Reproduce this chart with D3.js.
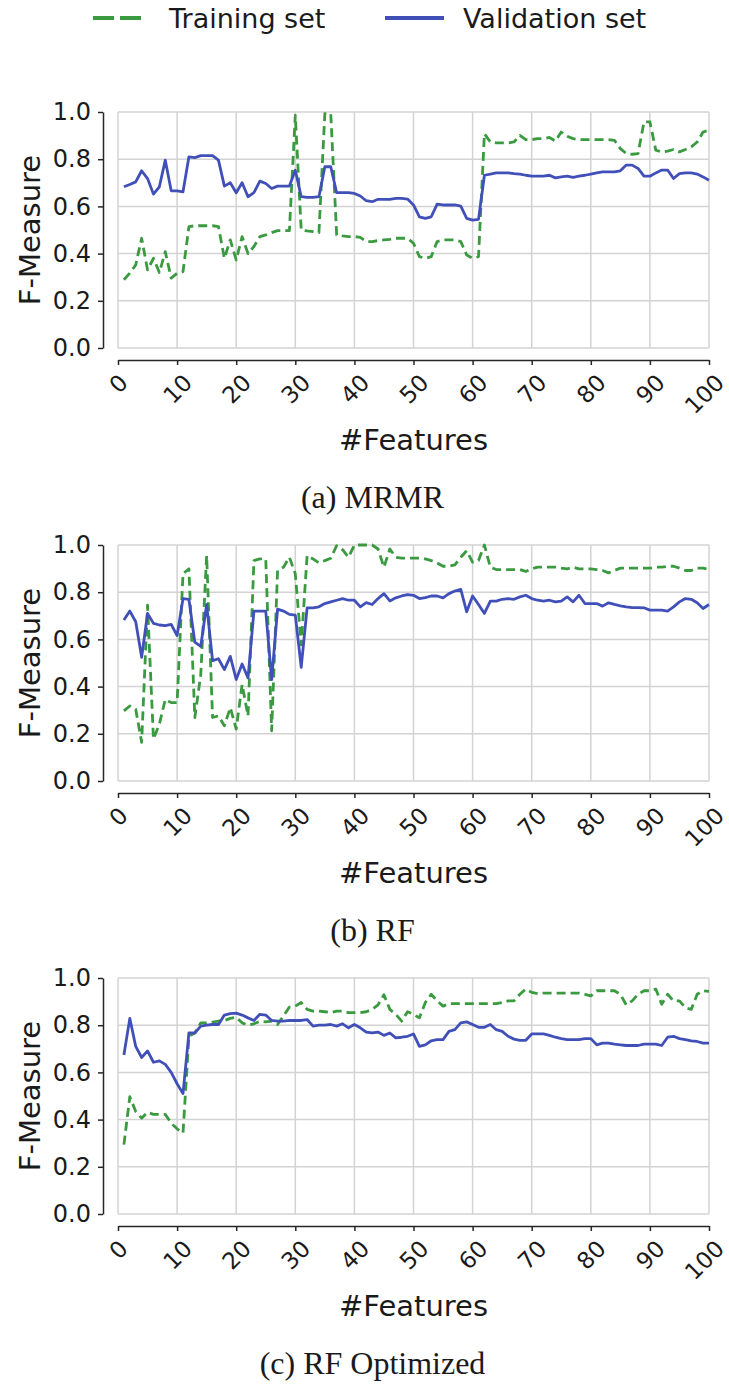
<!DOCTYPE html>
<html>
<head>
<meta charset="utf-8">
<script src="https://cdnjs.cloudflare.com/ajax/libs/d3/7.8.5/d3.min.js"></script>
<style>
  html, body { margin: 0; padding: 0; background: #ffffff; }
  svg { display: block; }
</style>
</head>
<body>
<svg id="chart" width="729" height="1387"></svg>
<script>
// ---------------- DATA ----------------
const features = d3.range(1, 101);
const xTicks = [0, 10, 20, 30, 40, 50, 60, 70, 80, 90, 100];
const yTicks = [0.0, 0.2, 0.4, 0.6, 0.8, 1.0];
const seriesNames = ["Training set", "Validation set"];
const panelCaptions = ["(a) MRMR", "(b) RF", "(c) RF Optimized"];
const xLabel = "#Features";
const yLabel = "F-Measure";

const mrmrTrain = [0.289,0.317,0.352,0.465,0.331,0.38,0.32,0.408,0.296,0.317,
  0.324,0.514,0.518,0.518,0.518,0.518,0.514,0.38,0.458,0.373,
  0.472,0.40,0.43,0.472,0.479,0.489,0.497,0.497,0.497,0.986,
  0.50,0.496,0.493,0.489,0.993,0.993,0.479,0.475,0.472,0.472,
  0.469,0.451,0.451,0.455,0.458,0.46,0.465,0.465,0.465,0.444,
  0.387,0.38,0.387,0.451,0.458,0.458,0.458,0.451,0.394,0.38,
  0.387,0.908,0.873,0.869,0.869,0.869,0.873,0.901,0.883,0.883,
  0.887,0.887,0.892,0.877,0.915,0.897,0.887,0.883,0.883,0.883,
  0.883,0.883,0.883,0.880,0.845,0.824,0.821,0.824,0.958,0.958,
  0.838,0.831,0.834,0.841,0.831,0.841,0.852,0.873,0.915,0.923];
const mrmrVal = [0.683,0.693,0.704,0.751,0.718,0.652,0.683,0.796,0.666,0.666,
  0.662,0.81,0.807,0.815,0.815,0.815,0.796,0.686,0.70,0.658,
  0.70,0.641,0.658,0.707,0.697,0.676,0.686,0.686,0.686,0.753,
  0.641,0.638,0.638,0.641,0.768,0.768,0.658,0.658,0.658,0.655,
  0.644,0.624,0.62,0.63,0.63,0.63,0.634,0.634,0.631,0.606,
  0.556,0.549,0.556,0.61,0.606,0.606,0.606,0.601,0.549,0.542,
  0.545,0.732,0.737,0.742,0.742,0.742,0.739,0.737,0.732,0.728,
  0.728,0.728,0.732,0.721,0.725,0.728,0.723,0.728,0.732,0.737,
  0.742,0.746,0.746,0.746,0.751,0.775,0.775,0.761,0.728,0.728,
  0.742,0.754,0.754,0.718,0.739,0.742,0.742,0.737,0.725,0.711];

const rfTrain = [0.297,0.318,0.304,0.164,0.745,0.178,0.241,0.346,0.332,0.332,
  0.878,0.899,0.269,0.45,0.955,0.269,0.276,0.234,0.311,0.22,
  0.409,0.276,0.934,0.941,0.941,0.213,0.892,0.906,0.948,0.878,
  0.577,0.955,0.941,0.924,0.934,0.944,0.997,0.98,0.948,1.0,
  1.0,1.0,1.0,0.983,0.906,0.983,0.948,0.944,0.944,0.944,
  0.944,0.941,0.934,0.924,0.91,0.91,0.916,0.948,0.976,0.927,
  0.934,1.0,0.906,0.896,0.896,0.896,0.896,0.896,0.888,0.899,
  0.906,0.906,0.906,0.906,0.902,0.899,0.906,0.899,0.899,0.899,
  0.896,0.892,0.882,0.892,0.902,0.902,0.902,0.902,0.902,0.902,
  0.906,0.906,0.91,0.91,0.902,0.892,0.892,0.902,0.902,0.896];
const rfVal = [0.682,0.72,0.675,0.524,0.71,0.668,0.661,0.658,0.664,0.616,
  0.773,0.77,0.588,0.57,0.748,0.51,0.518,0.472,0.528,0.43,
  0.496,0.437,0.72,0.72,0.72,0.43,0.728,0.72,0.706,0.703,
  0.482,0.734,0.734,0.738,0.752,0.759,0.766,0.773,0.766,0.766,
  0.738,0.756,0.748,0.773,0.794,0.763,0.776,0.784,0.79,0.787,
  0.773,0.777,0.784,0.784,0.776,0.794,0.805,0.812,0.717,0.784,
  0.748,0.71,0.762,0.762,0.77,0.773,0.77,0.78,0.787,0.773,
  0.766,0.762,0.766,0.759,0.762,0.78,0.759,0.787,0.752,0.752,
  0.752,0.741,0.755,0.748,0.742,0.738,0.735,0.735,0.734,0.724,
  0.724,0.724,0.72,0.738,0.759,0.773,0.77,0.755,0.731,0.748];

const rfoTrain = [0.294,0.497,0.434,0.406,0.431,0.422,0.422,0.422,0.385,0.361,
  0.343,0.753,0.767,0.81,0.81,0.813,0.817,0.82,0.829,0.834,
  0.81,0.80,0.806,0.817,0.814,0.817,0.803,0.839,0.877,0.881,
  0.896,0.867,0.86,0.86,0.857,0.853,0.86,0.86,0.853,0.853,
  0.853,0.857,0.867,0.886,0.929,0.867,0.846,0.817,0.857,0.846,
  0.831,0.896,0.931,0.903,0.881,0.891,0.891,0.891,0.891,0.891,
  0.891,0.891,0.891,0.891,0.896,0.903,0.903,0.931,0.953,0.939,
  0.934,0.936,0.936,0.936,0.936,0.936,0.936,0.936,0.931,0.924,
  0.946,0.946,0.946,0.946,0.931,0.886,0.903,0.931,0.946,0.946,
  0.953,0.889,0.931,0.903,0.903,0.874,0.867,0.931,0.946,0.943];
const rfoVal = [0.674,0.829,0.71,0.663,0.691,0.643,0.649,0.634,0.60,0.552,
  0.51,0.767,0.767,0.796,0.80,0.803,0.803,0.843,0.849,0.851,
  0.843,0.831,0.82,0.846,0.843,0.82,0.817,0.817,0.82,0.82,
  0.82,0.824,0.796,0.80,0.80,0.803,0.796,0.806,0.789,0.803,
  0.789,0.771,0.767,0.771,0.757,0.767,0.746,0.749,0.753,0.763,
  0.71,0.717,0.734,0.739,0.739,0.774,0.781,0.81,0.814,0.803,
  0.791,0.791,0.803,0.781,0.774,0.753,0.741,0.736,0.736,0.763,
  0.763,0.763,0.757,0.749,0.743,0.739,0.739,0.739,0.743,0.743,
  0.717,0.724,0.724,0.72,0.717,0.714,0.714,0.714,0.72,0.72,
  0.72,0.714,0.749,0.753,0.743,0.739,0.734,0.731,0.724,0.724];

// ---------------- STYLE / LAYOUT ----------------
const GREEN = "#3a9a40";
const BLUE = "#4150b8";
const GRID = "#d3d3d3";
const AXIS = "#262626";
const FONT = "DejaVu Sans, sans-serif";
const TICK_FS = 23;

const panels = [
  { train: mrmrTrain, val: mrmrVal, caption: panelCaptions[0], top: 112 },
  { train: rfTrain,   val: rfVal,   caption: panelCaptions[1], top: 545 },
  { train: rfoTrain,  val: rfoVal,  caption: panelCaptions[2], top: 978 }
];
const plotL = 118, plotR = 709, plotH = 236;
const spineOffX = 15, spineOffY = 12;
const pageW = 729;

const svg = d3.select("#chart");

// ---------------- LEGEND ----------------
const leg = svg.append("g");
leg.append("line").attr("x1", 93).attr("x2", 141).attr("y1", 18).attr("y2", 18)
  .attr("stroke", GREEN).attr("stroke-width", 4).attr("stroke-dasharray", "21,6");
leg.append("text").attr("x", 169).attr("y", 18).attr("dominant-baseline", "central")
  .attr("font-family", FONT).attr("font-size", 27).attr("fill", "#1a1a1a").text(seriesNames[0]);
leg.append("line").attr("x1", 385).attr("x2", 444).attr("y1", 18).attr("y2", 18)
  .attr("stroke", BLUE).attr("stroke-width", 4);
leg.append("text").attr("x", 463).attr("y", 18).attr("dominant-baseline", "central")
  .attr("font-family", FONT).attr("font-size", 27).attr("fill", "#1a1a1a").text(seriesNames[1]);

// ---------------- PANELS ----------------
panels.forEach(p => {
  const top = p.top, bottom = top + plotH;
  const x = d3.scaleLinear().domain([0, 100]).range([plotL, plotR]);
  const y = d3.scaleLinear().domain([0, 1]).range([bottom, top]);
  const g = svg.append("g");

  // grid
  g.append("g").selectAll("line").data(xTicks).join("line")
    .attr("x1", d => x(d)).attr("x2", d => x(d)).attr("y1", top).attr("y2", bottom)
    .attr("stroke", GRID).attr("stroke-width", 1.5);
  g.append("g").selectAll("line").data(yTicks).join("line")
    .attr("x1", plotL).attr("x2", plotR).attr("y1", d => y(d)).attr("y2", d => y(d))
    .attr("stroke", GRID).attr("stroke-width", 1.5);

  // lines
  const line = d3.line().x((d, i) => x(features[i])).y(d => y(d));
  g.append("path").datum(p.train).attr("d", line).attr("fill", "none")
    .attr("stroke", GREEN).attr("stroke-width", 2.8).attr("stroke-dasharray", "9,5")
    .attr("stroke-linejoin", "round");
  g.append("path").datum(p.val).attr("d", line).attr("fill", "none")
    .attr("stroke", BLUE).attr("stroke-width", 2.8).attr("stroke-linejoin", "round");

  // left axis (offset spine)
  const ya = g.append("g").attr("transform", `translate(${plotL - spineOffX},0)`)
    .call(d3.axisLeft(y).tickValues(yTicks).tickSize(5).tickSizeOuter(0).tickPadding(7)
      .tickFormat(d3.format(".1f")));
  ya.select(".domain").attr("stroke", AXIS).attr("stroke-width", 1.5);
  ya.selectAll(".tick line").attr("stroke", AXIS).attr("stroke-width", 1.5);
  ya.selectAll(".tick text").attr("font-family", FONT).attr("font-size", 24).attr("fill", "#1a1a1a");

  // bottom axis (offset spine)
  const axY = bottom + spineOffY;
  const xa = g.append("g").attr("transform", `translate(0,${axY})`)
    .call(d3.axisBottom(x).tickValues(xTicks).tickSize(5).tickSizeOuter(0));
  xa.select(".domain").attr("stroke", AXIS).attr("stroke-width", 1.5);
  xa.selectAll(".tick line").attr("stroke", AXIS).attr("stroke-width", 1.5);
  xa.selectAll(".tick text")
    .attr("font-family", FONT).attr("font-size", TICK_FS).attr("fill", "#1a1a1a")
    .attr("text-anchor", "middle").attr("dominant-baseline", "central")
    .attr("y", 0).attr("dy", null)
    .each(function (d) {
      const t = d3.select(this);
      const w = this.getComputedTextLength();
      const h = TICK_FS * 1.05;
      const ext = (w + h) * Math.SQRT1_2;
      // keep the rotated label inside the page
      let dx = 0;
      const rightEdge = x(d) + ext / 2;
      if (rightEdge > pageW - 1) dx = pageW - 1 - rightEdge;
      t.attr("transform", `translate(${dx},${5 + 5 + ext / 2}) rotate(-45)`);
    });

  // axis labels
  g.append("text").attr("transform", `translate(30,${top + plotH / 2}) rotate(-90)`)
    .attr("text-anchor", "middle").attr("dominant-baseline", "central")
    .attr("font-family", FONT).attr("font-size", 29).attr("fill", "#1a1a1a").text(yLabel);
  g.append("text").attr("x", (plotL + plotR) / 2).attr("y", bottom + 92)
    .attr("text-anchor", "middle").attr("dominant-baseline", "central")
    .attr("font-family", FONT).attr("font-size", 29).attr("fill", "#1a1a1a").text(xLabel);

  // caption
  g.append("text").attr("x", (plotL + plotR) / 2 - 41).attr("y", bottom + 149)
    .attr("text-anchor", "middle").attr("dominant-baseline", "central")
    .attr("font-family", "Liberation Serif, serif").attr("font-size", 32).attr("fill", "#1a1a1a")
    .text(p.caption);
});
</script>
</body>
</html>
